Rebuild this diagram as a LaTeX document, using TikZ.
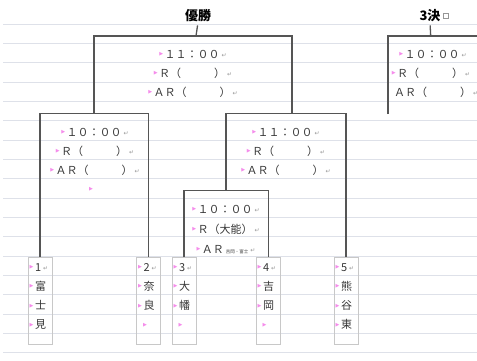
\documentclass[tikz,border=0pt]{standalone}
\usepackage{fontspec}
\newfontfamily\jp{Noto Sans CJK JP}
\newfontfamily\symb{DejaVu Sans}
\usetikzlibrary{positioning}
\definecolor{gridc}{RGB}{222,225,233}
\definecolor{linec}{RGB}{85,85,85}
\definecolor{boxc}{RGB}{200,200,200}
\definecolor{txtc}{RGB}{55,55,55}
\definecolor{markpink}{RGB}{245,140,235}
\definecolor{markgray}{RGB}{150,150,150}
% Word formatting marks
\newcommand{\pmk}{\raisebox{2.5pt}{\color{markpink}\symb\fontsize{5}{5}\selectfont ▶}\hspace{1.5pt}}
\newcommand{\rmk}{\hspace{2pt}\raisebox{1pt}{\color{markgray}\symb\fontsize{6}{6}\selectfont ↵}}

\begin{document}
\begin{tikzpicture}[%
    x=1pt, y=-1pt,
    gridline/.style={draw=gridc, line width=0.9pt},
    bline/.style={draw=linec, line width=1.3pt},
    teambox/.style={%
      rectangle,
      draw=boxc,
      line width=0.9pt,
      minimum width=24pt,
      minimum height=87pt,
      inner sep=0pt,
      anchor=north
    },
    slot/.style={font=\jp\fontsize{11}{11}\selectfont, text=txtc, inner sep=0pt, text height=8.5pt, text depth=0.5pt},
    team/.style={slot, font=\jp\fontsize{11}{11}\selectfont, anchor=west},
    title/.style={font=\jp\bfseries\fontsize{13}{13}\selectfont, text=black, inner sep=0pt}
  ]
  \useasboundingbox (0,0) rectangle (477,360);
  \fill[white] (0,0) rectangle (477,360);
  \foreach \k in {0,...,17}
    \draw[gridline] (3,{24+19.33*\k}) -- (477,{24+19.33*\k});

  % titles
  \node[title] (win) at (198,16) {優勝};
  \node[title] (bronze) at (430,16) {3決};
  \node[rectangle, draw=markgray, line width=0.5pt, minimum size=5pt, inner sep=0pt] (bmark) [right=2pt of bronze] {};

  % teams
  \node[teambox] (b1) at (40,257) {};
  \node[teambox] (b2) at (148.5,257) {};
  \node[teambox] (b3) at (184,257) {};
  \node[teambox] (b4) at (268.5,257) {};
  \node[teambox] (b5) at (346,257) {};

  \foreach \t [count=\i] in {\pmk 1\rmk, \pmk 富, \pmk 士, \pmk 見}
    \node[team] (n1-\i) at (29.5,{267+19.3*(\i-1)}) {\t};
  \foreach \t [count=\i] in {\pmk 2\rmk, \pmk 奈, \pmk 良}
    \node[team] (n2-\i) at (138,{267+19.3*(\i-1)}) {\t};
  \foreach \t [count=\i] in {\pmk 3\rmk, \pmk 大, \pmk 幡}
    \node[team] (n3-\i) at (173.5,{267+19.3*(\i-1)}) {\t};
  \foreach \t [count=\i] in {\pmk 4\rmk, \pmk 吉, \pmk 岡}
    \node[team] (n4-\i) at (257.5,{267+19.3*(\i-1)}) {\t};
  \foreach \t [count=\i] in {\pmk 5\rmk, \pmk 熊, \pmk 谷, \pmk 東}
    \node[team] (n5-\i) at (335.5,{267+19.3*(\i-1)}) {\t};
  \node[team] (n2-4) at (143,325) {\pmk};
  \node[team] (n3-4) at (178.5,325) {\pmk};
  \node[team] (n4-4) at (262.5,325) {\pmk};

  % match slots
  \node[slot] (f1) at (193,54) {\pmk １１：００\rmk};
  \node[slot] (f2) at (193,73) {\pmk Ｒ（　　　）\rmk};
  \node[slot] (f3) at (193,92) {\pmk ＡＲ（　　　）\rmk};

  \node[slot] (s1-1) at (95,132) {\pmk １０：００\rmk};
  \node[slot] (s1-2) at (95,151) {\pmk Ｒ（　　　）\rmk};
  \node[slot] (s1-3) at (95,170) {\pmk ＡＲ（　　　）\rmk};
  \node[slot] (s1-4) at (91,189) {\pmk};

  \node[slot] (s2-1) at (286,132) {\pmk １１：００\rmk};
  \node[slot] (s2-2) at (286,151) {\pmk Ｒ（　　　）\rmk};
  \node[slot] (s2-3) at (286,170) {\pmk ＡＲ（　　　）\rmk};

  \node[slot] (q-1) at (226,209) {\pmk １０：００\rmk};
  \node[slot] (q-2) at (226,229) {\pmk Ｒ（大能）\rmk};
  \node[slot] (q-3) at (226,249) {\pmk ＡＲ\,{\fontsize{4.5}{5}\selectfont 吉岡・富士}\rmk};

  \node[slot] (t-1) at (433,54) {\pmk １０：００\rmk};
  \node[slot] (t-2) at (431,73) {\pmk Ｒ（　　　）\rmk};
  \node[slot, anchor=west] (t-3) at (394,92) {ＡＲ（　　　）\rmk};

  % bracket
  \coordinate (s1top) at (94,113.3);
  \coordinate (s2top) at (292,113.3);
  \coordinate (qtop) at (226,190.7);
  \coordinate (ftop) at (196,36);
  \coordinate (ttop) at (430.7,36);
  \coordinate (tleg) at (388,114);
  \coordinate (tend) at (478,36);

  \draw[bline] (b1.north) |- (s1top) -| (b2.north);
  \draw[bline] (b3.north) |- (qtop) -| (b4.north);
  \draw[bline] (qtop) |- (s2top) -| (b5.north);
  \draw[bline] (s1top) |- (ftop) -| (s2top);
  \draw[bline, shorten <=3pt] (win.south) -- (ftop);
  \draw[bline, shorten <=3pt] (bronze.south) -- (ttop);
  \draw[bline] (tleg) |- (tend);
\end{tikzpicture}
\end{document}
